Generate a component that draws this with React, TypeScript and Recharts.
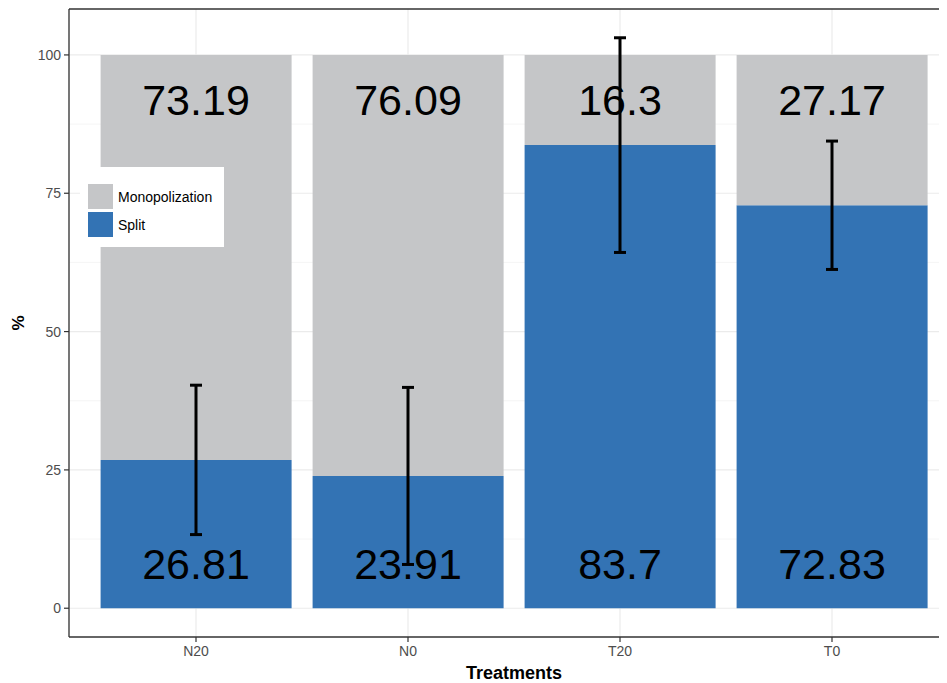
import {
  ComposedChart,
  Bar,
  Line,
  ErrorBar,
  XAxis,
  YAxis,
  CartesianGrid,
  Legend,
  ReferenceLine,
} from 'recharts'

const treatments = ['N20', 'N0', 'T20', 'T0']
const splitPct = [26.81, 23.91, 83.7, 72.83]
const monoPct = [73.19, 76.09, 16.3, 27.17]
const splitErr = [13.5, 16.0, 19.4, 11.6]
const lowLabelAt = 8
const highLabelAt = 92

const yTicks = [0, 25, 50, 75, 100]
const yMinor = [12.5, 37.5, 62.5, 87.5]
const yDomain: [number, number] = [-5.2, 108.3]

const legendItems = [
  { name: 'Monopolization', color: '#c5c6c8' },
  { name: 'Split', color: '#3373b4' },
]

const data = treatments.map((t, i) => ({
  treatment: t,
  split: splitPct[i],
  mono: monoPct[i],
  err: splitErr[i],
  lowPos: lowLabelAt,
  highPos: highLabelAt,
}))

const FONT = '"Liberation Sans", Arial, sans-serif'

function BigLabel(field: 'split' | 'mono') {
  return (props: any) => {
    const { cx, cy, payload, index } = props
    if (cx == null || cy == null) return <g key={`${field}-${index}`} />
    return (
      <text
        key={`${field}-${index}`}
        x={cx}
        y={cy}
        dy="0.36em"
        textAnchor="middle"
        fontSize={43}
        fontFamily={FONT}
        fill="#000"
      >
        {payload[field]}
      </text>
    )
  }
}

function LegendBox() {
  return (
    <div
      style={{
        background: '#fff',
        width: 144,
        height: 80,
        boxSizing: 'border-box',
        padding: '17px 0 0 8px',
        fontFamily: FONT,
        fontSize: 14,
      }}
    >
      {legendItems.map((it) => (
        <div key={it.name} style={{ display: 'flex', alignItems: 'center', height: 25, marginBottom: 3 }}>
          <div style={{ width: 25, height: 25, background: it.color }} />
          <span style={{ marginLeft: 5, color: '#000' }}>{it.name}</span>
        </div>
      ))}
    </div>
  )
}

export default function App() {
  return (
    <div style={{ width: 939, height: 675, overflow: 'hidden', fontFamily: FONT }}>
      <ComposedChart
        width={951}
        height={675}
        data={data}
        margin={{ top: 1, right: 0, bottom: 0, left: 0 }}
        barCategoryGap="5%"
      >
        <CartesianGrid
          stroke="#f2f2f2"
          strokeWidth={0.8}
          vertical={false}
          horizontalValues={yMinor}
        />
        <CartesianGrid stroke="#ebebeb" strokeWidth={1.2} horizontalValues={yTicks} />
        <XAxis
          dataKey="treatment"
          padding={{ left: 21, right: 21 }}
          height={46}
          tickSize={5}
          tickMargin={4}
          axisLine={{ stroke: '#333', strokeWidth: 1.3 }}
          tickLine={{ stroke: '#333', strokeWidth: 1.2 }}
          tick={{ fill: '#4d4d4d', fontSize: 14, fontFamily: FONT }}
          label={(p: any) => {
            const vb = p.viewBox
            return (
              <text
                x={vb.x + vb.width / 2}
                y={665}
                dy="0.36em"
                textAnchor="middle"
                fontSize={18}
                fontWeight="bold"
                fontFamily={FONT}
                fill="#000"
              >
                Treatments
              </text>
            )
          }}
        />
        <YAxis
          domain={yDomain}
          ticks={yTicks}
          allowDataOverflow
          width={61}
          tickSize={5}
          tickMargin={3}
          axisLine={{ stroke: '#333', strokeWidth: 1.3 }}
          tickLine={{ stroke: '#333', strokeWidth: 1.2 }}
          tick={{ fill: '#4d4d4d', fontSize: 14, fontFamily: FONT }}
          label={(p: any) => {
            const vb = p.viewBox
            const cy = vb.y + vb.height / 2
            return (
              <text
                x={10}
                y={cy}
                dy="0.36em"
                textAnchor="middle"
                fontSize={17}
                fontWeight="bold"
                fontFamily={FONT}
                fill="#000"
                transform={`rotate(-90 10 ${cy})`}
              >
                %
              </text>
            )
          }}
        />
        <ReferenceLine y={yDomain[1]} stroke="#333" strokeWidth={1.3} />
        <Legend
          layout="horizontal"
          verticalAlign="middle"
          align="center"
          content={<LegendBox />}
          wrapperStyle={{ position: 'absolute', left: 72, top: 159, width: 144 }}
        />
        <Bar dataKey="split" stackId="a" fill="#3373b4" isAnimationActive={false} />
        <Bar dataKey="mono" stackId="a" fill="#c5c6c8" isAnimationActive={false} />
        <Line
          dataKey="lowPos"
          stroke="none"
          dot={BigLabel('split')}
          activeDot={false}
          legendType="none"
          isAnimationActive={false}
        />
        <Line
          dataKey="highPos"
          stroke="none"
          dot={BigLabel('mono')}
          activeDot={false}
          legendType="none"
          isAnimationActive={false}
        />
        <Line
          dataKey="split"
          stroke="none"
          dot={false}
          activeDot={false}
          legendType="none"
          isAnimationActive={false}
        >
          <ErrorBar dataKey="err" width={6} strokeWidth={3} stroke="#000" direction="y" />
        </Line>
      </ComposedChart>
    </div>
  )
}
